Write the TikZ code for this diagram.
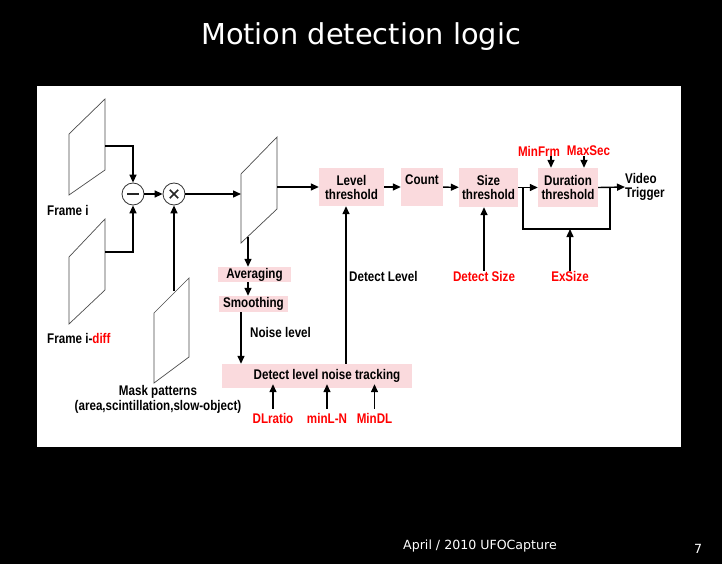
\documentclass[tikz,border=0pt]{standalone}
\usepackage{fontspec}
\setmainfont{Liberation Sans}
\newfontfamily\titlefont{DejaVu Sans}
\newfontfamily\lblfont[FakeStretch=0.83]{Liberation Sans}
\usetikzlibrary{arrows.meta}
\definecolor{pinkbox}{RGB}{250,218,221}
\definecolor{lblred}{RGB}{255,0,0}
\begin{document}
\begin{tikzpicture}[x=1pt,y=-1pt,
  lbl/.style={font=\lblfont\fontsize{14}{14}\selectfont\bfseries, inner sep=0pt, align=center},
  rlbl/.style={lbl, text=lblred},
  pbox/.style={lbl, fill=pinkbox, draw=none},
  framebox/.style={draw=black!70, line width=0.7pt, fill=white},
  opcircle/.style={draw=black!80, line width=0.8pt, circle, minimum size=22pt, inner sep=0pt, fill=white},
  opmark/.style={line width=1.6pt, black!85},
  conn/.style={line width=1.4pt, -{Triangle[length=8pt,width=7pt]}},
  wire/.style={line width=1.4pt}
]
\useasboundingbox (0,0) rectangle (722,564);
\fill[black] (0,0) rectangle (722,564);
\fill[white] (37,86) rectangle (681,447);

% title and footer
\node[text=white, font=\titlefont\fontsize{28.8}{32}\selectfont, inner sep=0pt, anchor=base] (title) at (361,45) {Motion detection logic};
\node[text=white, font=\titlefont\fontsize{12.6}{14}\selectfont, inner sep=0pt, anchor=base] (footer) at (480,549) {April / 2010 UFOCapture};
\node[text=white, font=\titlefont\fontsize{12.6}{14}\selectfont, inner sep=0pt, anchor=base] (pageno) at (698,553) {7};

% frames
\draw[framebox] (69,134) -- (105,99) -- (105,170) -- (69,195) -- cycle;
\draw[framebox] (69,257) -- (105,219) -- (105,290) -- (69,324) -- cycle;
\draw[framebox] (154,313) -- (189,278) -- (189,357) -- (154,383) -- cycle;
\draw[framebox] (241,174) -- (277,137) -- (277,209) -- (241,243) -- cycle;
\coordinate (fi) at (105,146);
\coordinate (fd) at (105,252);
\coordinate (mk) at (174,291);
\coordinate (midin) at (241,194);
\coordinate (midout) at (277,187);
\coordinate (midbot) at (248,236.5);

\node[lbl, anchor=west] (lfi) at (47,210) {Frame i};
\node[lbl, anchor=west] (lfd) at (47,338) {Frame i-\textcolor{lblred}{diff}};
\node[lbl] (lmk) at (158,399.5) {Mask patterns\\[1pt](area,scintillation,slow-object)};

% operators
\node[opcircle] (minus) at (133,194) {};
\node[opcircle] (times) at (174,194) {};
\draw[opmark] ([xshift=-6pt]minus.center) -- ([xshift=6pt]minus.center);
\draw[opmark] ([shift={(-4.2pt,-4.2pt)}]times.center) -- ([shift={(4.2pt,4.2pt)}]times.center);
\draw[opmark] ([shift={(-4.2pt,4.2pt)}]times.center) -- ([shift={(4.2pt,-4.2pt)}]times.center);

% boxes
\node[pbox, minimum width=65pt, minimum height=38pt] (level) at (351.5,187) {Level\\threshold};
\node[pbox, minimum width=42pt, minimum height=38pt] (count) at (422,187) {Count\\\mbox{}};
\node[pbox, minimum width=59pt, minimum height=39pt] (size) at (488.5,187.5) {Size\\threshold};
\node[pbox, minimum width=60pt, minimum height=39pt] (dur) at (568,187.5) {Duration\\threshold};
\node[lbl, anchor=west, align=left] (vt) at (625,187) {Video\\Trigger};
\node[pbox, minimum width=73pt, minimum height=15pt] (avg) at (254.5,274.5) {Averaging};
\node[pbox, minimum width=69pt, minimum height=16pt] (smooth) at (253.5,304) {Smoothing};
\node[pbox, minimum width=190pt, minimum height=24pt] (detect) at (317,376) {\hspace*{20pt}Detect level noise tracking};

% labels
\node[lbl, anchor=west] (lnoise) at (250,332) {Noise level};
\node[lbl, anchor=west] (ldl) at (349,276) {Detect Level};
\node[rlbl] (dlratio) at (273,418) {DLratio};
\node[rlbl] (minln) at (327,418) {minL-N};
\node[rlbl] (mindl) at (374.5,418) {MinDL};
\node[rlbl] (dsize) at (484,276) {Detect Size};
\node[rlbl] (exsize) at (570,276) {ExSize};
\node[rlbl] (minfrm) at (539,151) {MinFrm};
\node[rlbl] (maxsec) at (588.5,151) {MaxSec};

% connectors
\draw[conn] (fi) -| (minus.north);
\draw[conn] (fd) -| (minus.south);
\draw[conn] (minus) -- (times);
\draw[conn] (mk) -- (times.south);
\draw[conn] (times) -- (midin);
\draw[conn] (midout) -- (level.west |- midout);
\draw[conn] (midbot) -- (midbot |- avg.north);
\draw[conn] (avg.south -| midbot) -- (smooth.north -| midbot);
\draw[conn] ([xshift=-12.5pt]smooth.south) -- ([xshift=-12.5pt]smooth.south |- detect.north);
\draw[conn] ([xshift=-5.5pt]level.south |- detect.north) -- ([xshift=-5.5pt]level.south);
\draw[conn] (level) -- (count);
\draw[conn] (count) -- (size);
\draw[conn] (size) -- (dur);
\draw[conn] (dur.east) -- (vt.west);
\coordinate (fbL) at (523,187.5);
\coordinate (fbR) at (610,187.5);
\coordinate (fbBL) at (523,229);
\coordinate (fbBR) at (610,229);
\draw[wire] (fbL) -- (fbBL) -- (fbBR) -- (fbR);
\draw[conn] (exsize.north) -- (exsize.north |- fbBL);
\draw[conn] (dsize.north) -- (dsize.north |- size.south);
\draw[conn] ([xshift=12pt]minfrm.south) -- ([xshift=12pt]minfrm.south |- dur.north);
\draw[conn] ([xshift=-4.5pt]maxsec.south) -- ([xshift=-4.5pt]maxsec.south |- dur.north);
\draw[conn] ([yshift=4pt]dlratio.north) -- ([yshift=4pt]dlratio.north |- detect.south);
\draw[conn] ([yshift=4pt]minln.north) -- ([yshift=4pt]minln.north |- detect.south);
\draw[conn] ([yshift=4pt]mindl.north) -- ([yshift=4pt]mindl.north |- detect.south);
\end{tikzpicture}
\end{document}
